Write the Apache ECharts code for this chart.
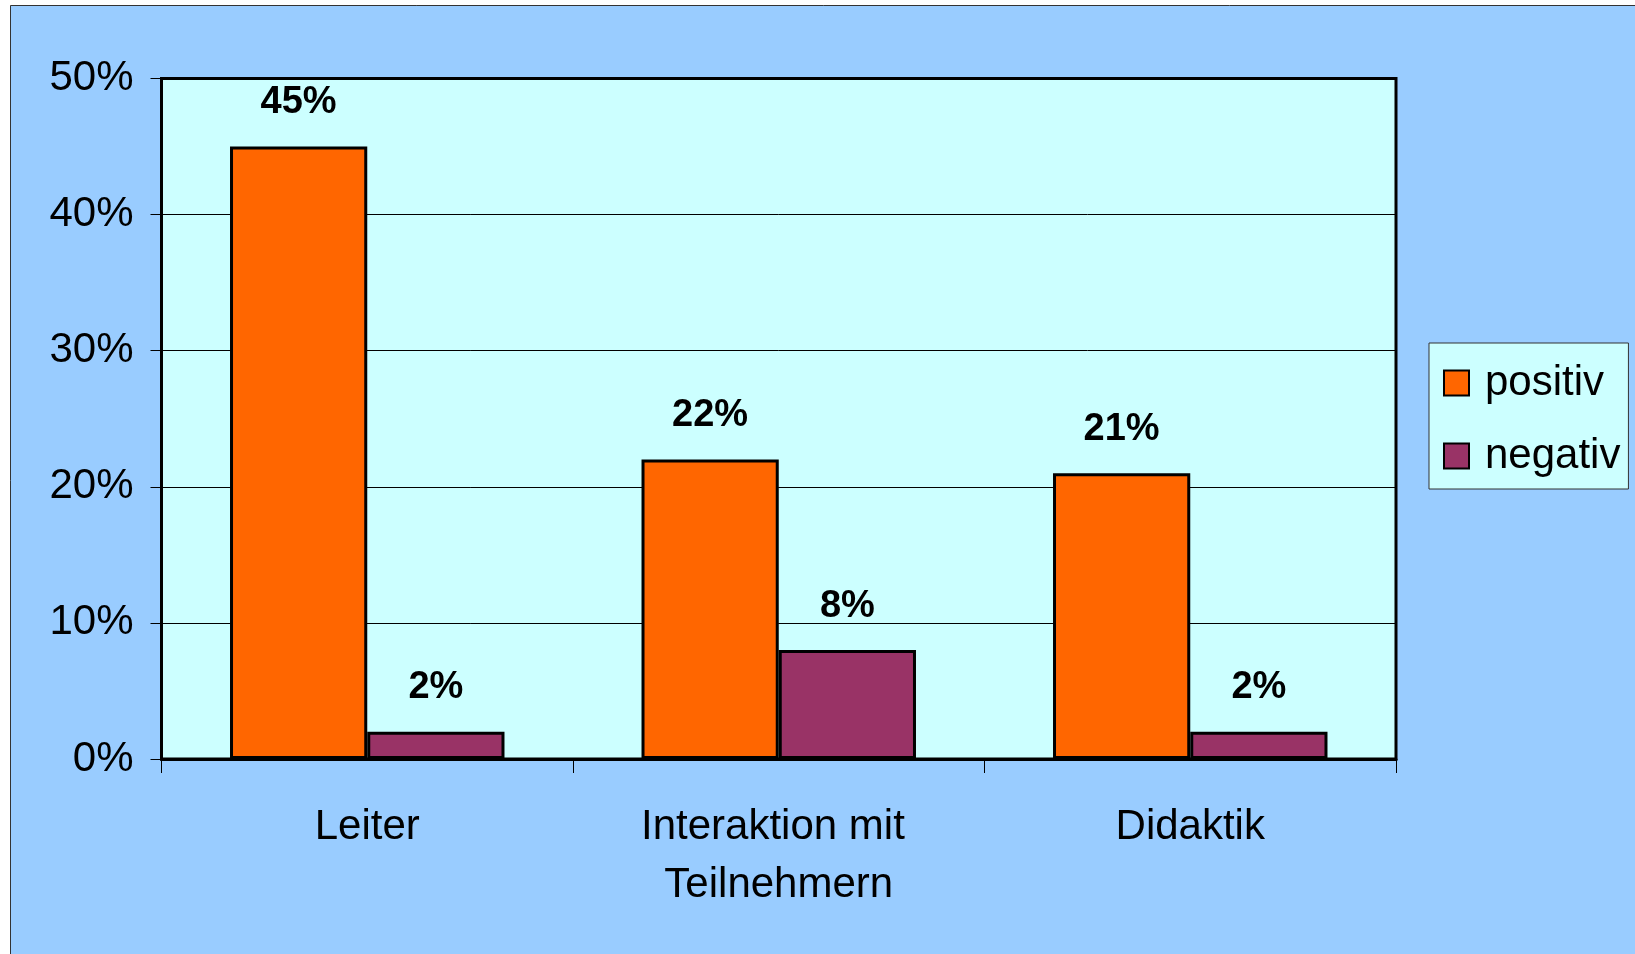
<!DOCTYPE html>
<html>
<head>
<meta charset="utf-8">
<script src="https://cdn.jsdelivr.net/npm/echarts@6/dist/echarts.min.js"></script>
<style>
  html, body { margin: 0; padding: 0; background: #fff; }
  #main { width: 1635px; height: 954px; }
</style>
</head>
<body>
<div id="main"></div>
<script>
// Kategorien und Werte (Prozent)
const categories = ['Leiter', 'Interaktion mit \nTeilnehmern', 'Didaktik']
const positiv = [45, 22, 21]
const negativ = [2, 8, 2]
const seriesNames = ['positiv', 'negativ']
const colors = ['#FF6600', '#993366']

const font = 'Liberation Sans, Arial, sans-serif'
const myChart = echarts.init(document.getElementById('main'))

const barLabel = {
  show: true,
  position: 'top',
  distance: 25,
  fontFamily: font,
  fontSize: 38,
  fontWeight: 'bold',
  color: '#000',
  formatter: '{c}%',
}

const option = {
  animation: false,
  backgroundColor: '#fff',
  graphic: [
    {
      type: 'rect',
      z: -10,
      silent: true,
      shape: { x: 10.5, y: 5.5, width: 1700, height: 1000 },
      style: { fill: '#99CCFF', stroke: '#333', lineWidth: 1 },
    },
  ],
  grid: {
    left: 161.5,
    top: 78.5,
    width: 1234.5,
    height: 680.5,
    show: true,
    backgroundColor: '#CCFFFF',
    borderColor: '#000',
    borderWidth: 3,
  },
  legend: {
    orient: 'vertical',
    left: 1429,
    top: 343,
    padding: [19, 8, 12, 14],
    itemWidth: 25,
    itemHeight: 25,
    itemGap: 31,
    icon: 'rect',
    backgroundColor: '#CCFFFF',
    borderColor: '#333',
    borderWidth: 1,
    borderRadius: 0,
    itemStyle: { borderColor: '#000', borderWidth: 2 },
    textStyle: {
      fontFamily: font,
      fontSize: 42,
      color: '#000',
      padding: [0, 0, 0, 11],
    },
    data: seriesNames,
  },
  xAxis: {
    type: 'category',
    data: categories,
    axisLine: { lineStyle: { color: '#000', width: 3 } },
    axisTick: { show: true, length: 14, lineStyle: { color: '#000', width: 1 } },
    axisLabel: {
      fontFamily: font,
      fontSize: 42,
      lineHeight: 58,
      color: '#000',
      margin: 39,
      interval: 0,
    },
  },
  yAxis: {
    type: 'value',
    min: 0,
    max: 50,
    interval: 10,
    axisLine: { show: true, lineStyle: { color: '#000', width: 3 } },
    axisTick: { show: true, length: 11, lineStyle: { color: '#000', width: 1 } },
    splitLine: { show: true, lineStyle: { color: '#000', width: 1 } },
    axisLabel: {
      fontFamily: font,
      fontSize: 42,
      color: '#000',
      margin: 28,
      formatter: '{value}%',
    },
  },
  series: [
    {
      name: seriesNames[0],
      type: 'bar',
      data: positiv,
      barGap: '0%',
      barCategoryGap: '33.3%',
      itemStyle: { color: colors[0], borderColor: '#000', borderWidth: 3 },
      label: barLabel,
    },
    {
      name: seriesNames[1],
      type: 'bar',
      data: negativ,
      barGap: '0%',
      barCategoryGap: '33.3%',
      itemStyle: { color: colors[1], borderColor: '#000', borderWidth: 3 },
      label: barLabel,
    },
  ],
}

myChart.setOption(option)
</script>
</body>
</html>
